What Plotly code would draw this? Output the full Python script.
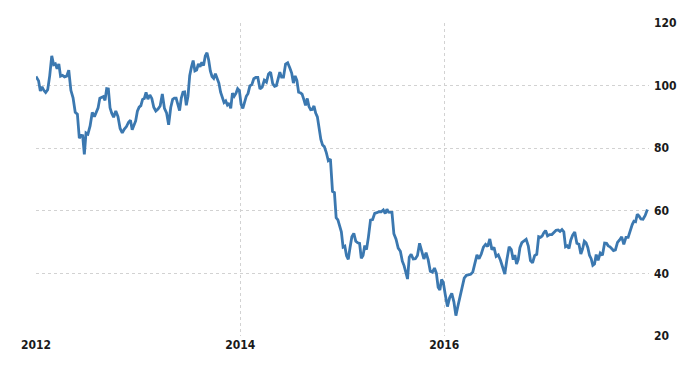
import pandas as pd
import plotly.graph_objects as go

# Approximate weekly WTI crude prices (USD/bbl), grouped by month
wti_2012 = [
    [102.9, 101.5, 98.3, 99.6, 98.5],
    [97.8, 98.7, 103.2, 109.5],
    [106.7, 107.0, 105.4, 106.9, 103.0],
    [103.3, 102.8, 103.0, 104.9],
    [98.5, 96.1, 91.5, 90.9],
    [83.2, 84.1, 84.0, 78.0, 84.9],
    [84.5, 87.1, 91.4, 90.1],
    [91.4, 92.9, 96.0, 96.3, 96.5],
    [95.3, 99.0, 98.9, 92.9, 91.2],
    [89.9, 91.9, 90.1, 86.3],
    [84.9, 86.1, 86.9, 88.3],
    [88.9, 85.9, 87.2, 88.7, 91.8],
]
wti_2013 = [
    [93.1, 93.6, 95.6, 95.9, 97.8],
    [95.7, 97.0, 95.9, 93.1],
    [91.9, 92.5, 93.5, 97.3],
    [92.7, 91.3, 87.5, 93.0],
    [95.6, 96.0, 96.0, 94.0, 92.0],
    [96.0, 97.9, 98.0, 93.7, 96.6],
    [103.2, 105.9, 108.0, 104.7, 105.0],
    [106.9, 106.0, 107.5, 106.4, 109.5],
    [110.5, 108.2, 104.7, 102.9, 102.3],
    [103.8, 102.0, 100.8, 97.9, 96.4],
    [94.6, 95.1, 93.8, 94.4, 92.7],
    [97.6, 96.6, 97.5, 99.0, 98.4],
]
wti_2014 = [
    [94.0, 92.7, 94.4, 96.6, 97.5],
    [99.9, 100.3, 102.2, 102.6],
    [102.6, 98.9, 99.5, 101.7],
    [101.1, 103.7, 104.3, 100.6],
    [99.8, 100.0, 102.0, 104.3, 102.7],
    [102.7, 106.9, 107.3, 105.7],
    [104.0, 100.8, 103.1, 101.7, 97.9],
    [97.7, 97.3, 95.6, 93.7, 95.9],
    [93.3, 92.3, 92.4, 93.5, 91.2],
    [90.0, 85.8, 82.8, 81.0, 80.5],
    [78.7, 76.0, 76.5, 66.2],
    [65.8, 57.8, 57.1, 54.7, 53.3],
]
wti_2015 = [
    [48.4, 48.7, 45.6, 44.5, 48.2],
    [51.7, 52.8, 50.3, 49.8],
    [49.6, 44.8, 45.7, 48.9, 47.6],
    [51.6, 57.0, 57.2, 59.2],
    [59.4, 59.7, 59.7, 60.3],
    [59.1, 60.5, 59.6, 59.6, 59.5],
    [52.7, 50.9, 48.1, 47.1],
    [43.9, 42.5, 40.4, 38.2, 45.2],
    [46.1, 44.6, 44.7, 45.7],
    [49.6, 47.1, 44.6, 46.6],
    [44.3, 40.7, 40.4, 41.7],
    [40.0, 35.6, 34.7, 38.1, 37.0],
]
wti_2016 = [
    [33.2, 29.4, 32.2, 33.6],
    [30.9, 26.5, 29.6, 32.8],
    [35.9, 38.5, 39.4, 39.5],
    [39.7, 40.4, 43.7, 45.9],
    [44.7, 46.2, 48.4, 49.3],
    [48.6, 51.0, 47.6, 48.3],
    [45.4, 45.9, 44.2, 41.6],
    [39.8, 44.5, 48.5, 47.6],
    [44.4, 45.9, 43.0, 44.5, 48.2],
    [49.8, 50.4, 50.9, 48.7],
    [44.1, 43.4, 45.7, 46.1],
    [51.7, 51.5, 51.9, 53.0, 53.7],
]
wti_2017 = [
    [52.0, 52.4, 52.4, 53.2],
    [53.8, 53.9, 53.4, 54.0],
    [53.3, 48.5, 48.8, 48.0, 50.6],
    [52.2, 53.2, 49.6, 49.3],
    [46.2, 47.8, 50.3, 49.8, 48.3],
    [45.8, 44.7, 42.6, 43.0, 46.0],
    [44.2, 46.5, 45.8, 49.7],
    [49.6, 48.8, 48.5, 47.9, 47.3],
    [47.5, 49.9, 50.7, 51.7],
    [49.3, 51.5, 51.5, 53.9],
    [55.6, 56.7, 56.5, 58.9, 58.4],
    [57.4, 57.3, 58.5, 60.4],
]
years = [2012, 2013, 2014, 2015, 2016, 2017]
tick_years = ["2012", "2014", "2016"]

dates, prices = [], []
for yr, months in zip(years, [wti_2012, wti_2013, wti_2014, wti_2015, wti_2016, wti_2017]):
    for m, vals in enumerate(months, start=1):
        start = pd.Timestamp(yr, m, 1)
        days = start.days_in_month
        n = len(vals)
        for i, v in enumerate(vals):
            off = (i + 0.5) * days / n
            if yr == 2012 and m == 1 and i == 0:
                off = 0
            dates.append(start + pd.Timedelta(days=off))
            prices.append(v)

fig = go.Figure(go.Scatter(
    x=dates, y=prices, mode="lines",
    line=dict(color="#3b78b0", width=2.8),
    hoverinfo="skip",
))

font_tick = dict(family="DejaVu Sans Condensed, Liberation Sans Narrow, sans-serif",
                 size=12, color="#1a1a1a", weight="bold")

fig.update_layout(
    width=700, height=375,
    margin=dict(l=36, r=51, t=23, b=39),
    paper_bgcolor="white", plot_bgcolor="white",
    showlegend=False,
    xaxis=dict(
        range=[pd.Timestamp(2012, 1, 1), pd.Timestamp(2018, 1, 3)],
        tickvals=[pd.Timestamp(int(y), 1, 1) for y in tick_years],
        ticktext=tick_years,
        showgrid=True, gridcolor="#d2d2d2", griddash="dot", gridwidth=1,
        zeroline=False, showline=False,
        ticks="", tickfont=font_tick,
    ),
    yaxis=dict(
        side="right", range=[20, 120],
        tickvals=[20, 40, 60, 80, 100, 120],
        showgrid=True, gridcolor="#d2d2d2", griddash="dot", gridwidth=1,
        zeroline=False, showline=False,
        ticks="", tickfont=font_tick, ticklabelstandoff=4,
    ),
)

fig.write_html("out.html")
